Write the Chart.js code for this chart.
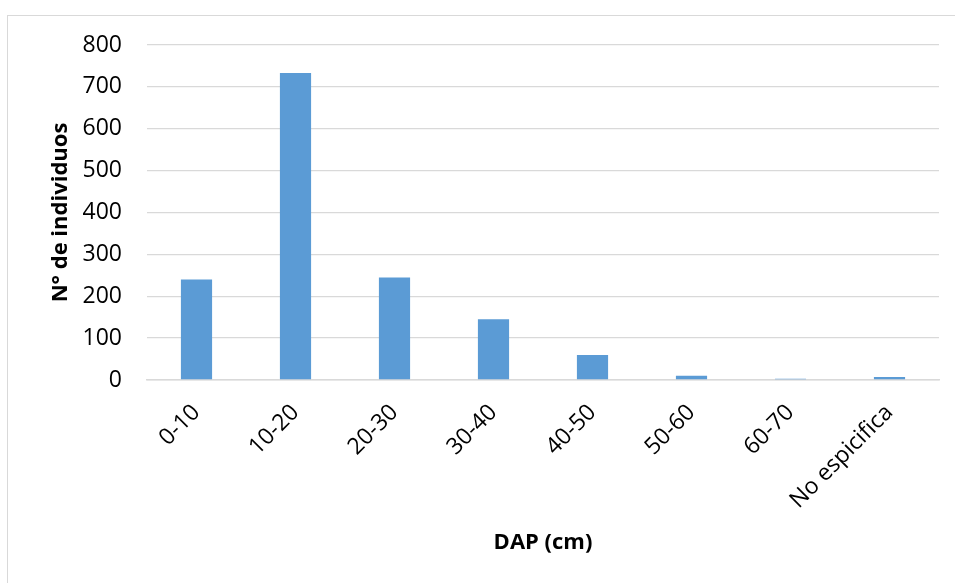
<!DOCTYPE html>
<html>
<head>
<meta charset="utf-8">
<script src="https://cdn.jsdelivr.net/npm/chart.js@4.4.1/dist/chart.umd.min.js"></script>
<style>
  html, body { margin: 0; padding: 0; background: #fff; }
  #wrap { position: relative; width: 955px; height: 583px; overflow: hidden; }
  #frame {
    position: absolute; left: 7px; top: 15px; width: 1000px; height: 700px;
    border-left: 1px solid #d9d9d9; border-top: 1px solid #d9d9d9;
    pointer-events: none;
  }
  canvas { position: absolute; left: 0; top: 0; }
</style>
</head>
<body>
<div id="wrap">
  <div id="frame"></div>
  <canvas id="chart" width="955" height="583"></canvas>
</div>
<script>
// Diameter classes (DAP) and number of trees in each class
const categories = ['0-10', '10-20', '20-30', '30-40', '40-50', '50-60', '60-70', 'No espicifica'];
const individuos = [240, 733, 245, 145, 60, 10, 3, 7];
const yTicks = [0, 100, 200, 300, 400, 500, 600, 700, 800];

const FONT = '"Open Sans", "Liberation Sans", sans-serif';

new Chart(document.getElementById('chart'), {
  type: 'bar',
  data: {
    labels: categories,
    datasets: [{
      data: individuos,
      backgroundColor: '#5b9bd5',
      borderWidth: 0,
      barPercentage: 0.315,
      categoryPercentage: 1.0
    }]
  },
  options: {
    responsive: false,
    animation: false,
    layout: { padding: { left: 44, right: 16, top: 45, bottom: 20 } },
    plugins: { legend: { display: false }, tooltip: { enabled: false } },
    scales: {
      x: {
        grid: { display: false, drawTicks: false },
        border: { display: true, color: '#d9d9d9', width: 1.5 },
        ticks: {
          color: '#000',
          font: { family: FONT, size: 23 },
          minRotation: 45, maxRotation: 45,
          padding: 19,
          autoSkip: false
        },
        title: {
          display: true, text: 'DAP (cm)', color: '#000',
          font: { family: FONT, size: 22, weight: 'bold' },
          padding: { top: 0, bottom: 7 }
        },
        afterFit(scale) { scale.height = 583 - 380 - 20; }
      },
      y: {
        min: 0, max: 800,
        afterBuildTicks(scale) { scale.ticks = yTicks.map(v => ({ value: v })); },
        grid: { color: '#d9d9d9', lineWidth: 1.3, drawTicks: false },
        border: { display: false },
        ticks: {
          color: '#000',
          font: { family: FONT, size: 23 },
          padding: 25
        },
        title: {
          display: true, text: 'N° de individuos', color: '#000',
          font: { family: FONT, size: 22, weight: 'bold' },
          padding: { top: 4, bottom: 0 }
        },
        afterFit(scale) { scale.width = 147 - 44; }
      }
    }
  }
});
</script>
</body>
</html>
